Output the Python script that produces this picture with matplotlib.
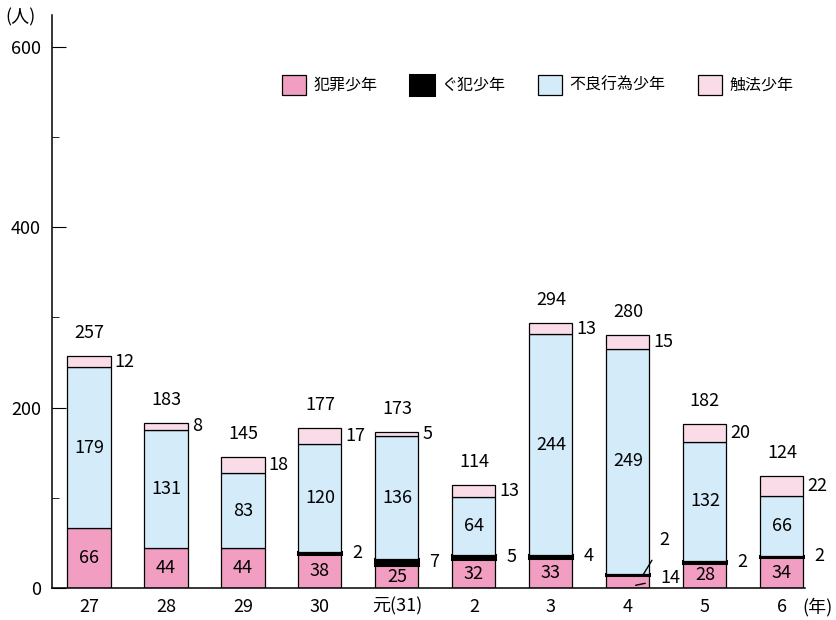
import matplotlib
matplotlib.use('Agg')
import matplotlib.pyplot as plt
import numpy as np
from matplotlib.ticker import MultipleLocator

plt.rcParams['font.family'] = ['Noto Sans CJK JP', 'DejaVu Sans']

years = ['27', '28', '29', '30', '元(31)', '2', '3', '4', '5', '6']
hanzai = [66, 44, 44, 38, 25, 32, 33, 14, 28, 34]      # 犯罪少年
guhan = [0, 0, 0, 2, 7, 5, 4, 2, 2, 2]                 # ぐ犯少年
furyo = [179, 131, 83, 120, 136, 64, 244, 249, 132, 66]  # 不良行為少年
shokuho = [12, 8, 18, 17, 5, 13, 13, 15, 20, 22]       # 触法少年
totals = [257, 183, 145, 177, 173, 114, 294, 280, 182, 124]

c_hanzai = '#F19EC2'
c_guhan = '#000000'
c_furyo = '#D4ECF9'
c_shokuho = '#FADCE9'

fig = plt.figure(figsize=(8.36, 6.2), dpi=100)
ax = fig.add_axes([52/836, 1-588/620, 753/836, 573/620])

x = np.arange(len(years))
w = 0.56
b1 = np.array(hanzai)
b2 = b1 + np.array(guhan)
b3 = b2 + np.array(furyo)
g = np.array(guhan)
has_g = g > 0

ax.bar(x, hanzai, w, color=c_hanzai, edgecolor='black', linewidth=0.9, label='犯罪少年')
ax.bar(x[has_g], g[has_g], w, bottom=b1[has_g], color=c_guhan, edgecolor='black',
       linewidth=2.2, label='ぐ犯少年')
ax.bar(x, furyo, w, bottom=b2, color=c_furyo, edgecolor='black', linewidth=0.9, label='不良行為少年')
ax.bar(x, shokuho, w, bottom=b3, color=c_shokuho, edgecolor='black', linewidth=0.9, label='触法少年')

fs = 13
for i in range(len(years)):
    # 犯罪少年
    if i != 7:
        ax.text(x[i], hanzai[i]/2, str(hanzai[i]), ha='center', va='center', fontsize=fs)
    # 不良行為少年
    ax.text(x[i], b2[i] + furyo[i]/2, str(furyo[i]), ha='center', va='center', fontsize=fs)
    # 触法少年
    ax.annotate(str(shokuho[i]), (x[i] + w/2, b3[i] + shokuho[i]/2), xytext=(3, 0),
                textcoords='offset points', ha='left', va='center', fontsize=fs)
    # ぐ犯少年
    if guhan[i] > 0 and i != 7:
        ax.annotate(str(guhan[i]), (x[i] + w/2, b1[i] + guhan[i]/2), xytext=(8, 0),
                    textcoords='offset points', ha='left', va='center', fontsize=fs)
    # 合計
    ax.annotate(str(totals[i]), (x[i], totals[i]), xytext=(0, 10),
                textcoords='offset points', ha='center', va='bottom', fontsize=fs)

# 令和4年は引き出し線
ax.annotate(str(guhan[7]), (x[7] + 0.2, b1[7] + 1), xytext=(x[7] + 0.47, 53),
            ha='center', va='center', fontsize=fs,
            arrowprops=dict(arrowstyle='-', color='black', lw=1, shrinkA=7, shrinkB=0))
ax.annotate(str(hanzai[7]), (x[7] + 0.1, 3), xytext=(x[7] + 0.55, 11),
            ha='center', va='center', fontsize=fs,
            arrowprops=dict(arrowstyle='-', color='black', lw=1, shrinkA=9, shrinkB=0))

ax.set_xlim(-0.48, 9.3)
ax.set_ylim(0, 635)
ax.spines['top'].set_visible(False)
ax.spines['right'].set_visible(False)
ax.spines['left'].set_linewidth(1.1)
ax.spines['bottom'].set_linewidth(1.1)
ax.set_xticks(x)
ax.set_xticklabels(years, fontsize=fs)
ax.tick_params(axis='x', length=0, pad=7)
ax.yaxis.set_major_locator(MultipleLocator(200))
ax.yaxis.set_minor_locator(MultipleLocator(100))
ax.set_yticks([0, 200, 400, 600])
ax.tick_params(axis='y', which='major', direction='in', length=10, labelsize=fs, pad=8)
ax.tick_params(axis='y', which='minor', direction='in', length=5)

fig.text(5/836, 1-17/620, '(人)', ha='left', va='center', fontsize=fs)
ax.annotate('(年)', (1.0, 0), xycoords='axes fraction', xytext=(9, -14),
            textcoords='offset points', ha='center', va='center', fontsize=fs,
            annotation_clip=False)

ax.legend(loc='center', bbox_to_anchor=(0.645, 0.878), ncol=4, frameon=False,
          fontsize=11.5, handlelength=1.5, handleheight=1.5, columnspacing=2.0,
          handletextpad=0.5)

fig.savefig('out.png', dpi=100)
